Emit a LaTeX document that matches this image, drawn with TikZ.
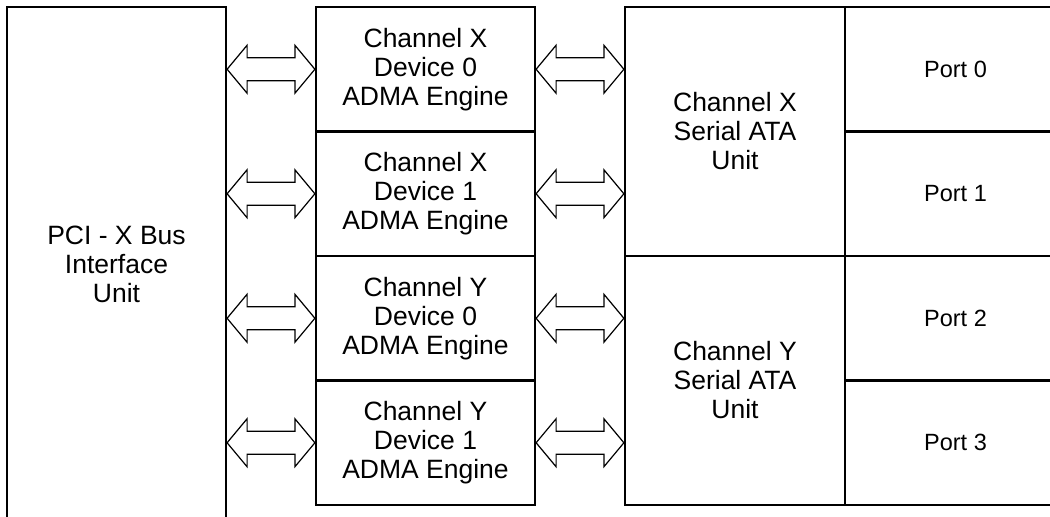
\documentclass[tikz,border=0pt]{standalone}
\usepackage{fontspec}
\setmainfont{Liberation Sans}
\usetikzlibrary{calc}

% hollow two-headed bus arrow from tip #1 to tip #2
\newcommand{\busarrow}[2]{%
  \draw[bus] (#1) -- ++(20,-24) -- ++(0,12.5) -- ($(#2)+(-20,-11.5)$) -- ++(0,-12.5)
    -- (#2) -- ++(-20,24) -- ++(0,-12.5) -- ($(#1)+(20,11.5)$) -- ++(0,12.5) -- cycle;}

\begin{document}
\begin{tikzpicture}[x=0.5pt,y=-0.5pt,
    unit/.style={draw,line width=1.1pt,align=center,inner sep=0pt,
      font=\fontsize{13.25}{14.5}\selectfont},
    engine/.style={unit,minimum width=109.5pt,minimum height=62.25pt},
    sata/.style={unit,minimum width=110pt,minimum height=124.5pt},
    port/.style={unit,minimum width=110.5pt,minimum height=62.25pt,
      font=\fontsize{11.75}{13}\selectfont},
    bus/.style={draw,line width=0.6pt,line join=miter,fill=white}]
  \useasboundingbox (0,0) rectangle (1050,516);
  \clip (0,0) rectangle (1050,516);
  \fill[white] (0,0) rectangle (1050,516);

  \node[unit,minimum width=109.5pt,minimum height=257.5pt] (pci) at (116.5,264.5)
    {PCI - X Bus\\Interface\\Unit};

  \node[engine] (xdev0) at (425.5,69.25) {Channel X\\Device 0\\ADMA Engine};
  \node[engine] (xdev1) at (425.5,193.75) {Channel X\\Device 1\\ADMA Engine};
  \node[engine] (ydev0) at (425.5,318.25) {Channel Y\\Device 0\\ADMA Engine};
  \node[engine] (ydev1) at (425.5,442.75) {Channel Y\\Device 1\\ADMA Engine};

  \node[sata] (xsata) at (735,131.5) {Channel X\\Serial ATA\\Unit};
  \node[sata] (ysata) at (735,380.5) {Channel Y\\Serial ATA\\Unit};

  \node[port] (port0) at (955.5,69.25) {Port 0};
  \node[port] (port1) at (955.5,193.75) {Port 1};
  \node[port] (port2) at (955.5,318.25) {Port 2};
  \node[port] (port3) at (955.5,442.75) {Port 3};

  \busarrow{pci.east |- xdev0.west}{xdev0.west}
  \busarrow{pci.east |- xdev1.west}{xdev1.west}
  \busarrow{pci.east |- ydev0.west}{ydev0.west}
  \busarrow{pci.east |- ydev1.west}{ydev1.west}

  \busarrow{xdev0.east}{xsata.west |- xdev0.east}
  \busarrow{xdev1.east}{xsata.west |- xdev1.east}
  \busarrow{ydev0.east}{ysata.west |- ydev0.east}
  \busarrow{ydev1.east}{ysata.west |- ydev1.east}
\end{tikzpicture}
\end{document}
